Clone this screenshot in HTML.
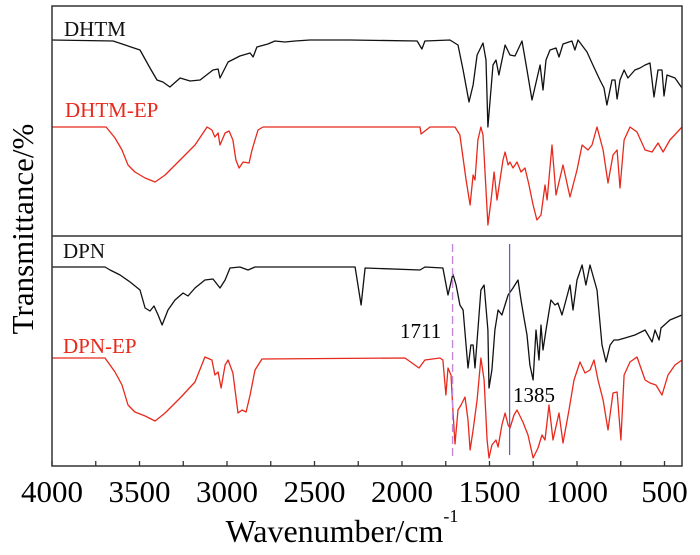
<!DOCTYPE html>
<html><head><meta charset="utf-8"><style>
html,body{margin:0;padding:0;background:#fff;}
svg{display:block;font-family:"Liberation Serif",serif;}
</style></head><body>
<svg id="chart" width="700" height="555" viewBox="0 0 700 555" xmlns="http://www.w3.org/2000/svg">
<rect width="700" height="555" fill="#fff"/>
<g id="plot"></g>
<text x="0" y="0" font-size="31" text-anchor="middle" transform="translate(33,229) rotate(-90)">Transmittance/%</text>
<text x="342" y="542" font-size="32" text-anchor="middle">Wavenumber/cm<tspan dy="-20" font-size="18">-1</tspan></text>
<text x="64" y="36" font-size="21" fill="#111">DHTM</text>
<text x="65" y="117" font-size="21" fill="#e8291c">DHTM-EP</text>
<text x="63" y="258" font-size="21" fill="#111">DPN</text>
<text x="63" y="353" font-size="21" fill="#e8291c">DPN-EP</text>
<text x="400" y="338" font-size="21">1711</text>
<text x="513" y="402" font-size="21">1385</text>
</svg>
<script>
const xTicks=[4000,3500,3000,2500,2000,1500,1000,500];
const minorTicks=[3750,3250,2750,2250,1750,1250,750];
const markers=[1711,1385];
const dhtm=[[4000,426],[3651,425],[3497,416],[3440,398],[3400,386],[3366,384],[3326,379],[3268,388],[3211,385],[3154,386],[3080,396],[3051,397],[3040,388],[2994,404],[2926,410],[2868,413],[2851,409],[2829,419],[2766,422],[2726,425],[2669,424],[2611,425],[2526,426],[2297,426],[1914,425],[1886,417],[1869,425],[1726,426],[1680,421],[1651,396],[1617,364],[1594,381],[1571,411],[1537,423],[1520,406],[1509,339],[1480,401],[1463,406],[1446,391],[1411,421],[1383,411],[1354,410],[1314,425],[1286,396],[1257,366],[1211,401],[1194,376],[1177,406],[1154,416],[1120,418],[1103,409],[1080,422],[1029,425],[1012,416],[994,426],[943,414],[909,401],[869,386],[846,378],[829,361],[800,386],[783,386],[771,367],[754,386],[731,396],[709,388],[669,396],[640,398],[611,401],[583,403],[560,369],[537,396],[514,396],[503,370],[486,391],[440,388],[400,378]];
const dhtmEp=[[4000,339],[3691,339],[3640,328],[3600,316],[3566,301],[3526,294],[3468,288],[3411,284],[3354,291],[3268,306],[3183,321],[3114,339],[3086,336],[3069,329],[3051,333],[3040,321],[3011,333],[2988,335],[2966,326],[2949,306],[2931,298],[2908,304],[2874,303],[2857,316],[2823,336],[2794,339],[2297,339],[1897,339],[1891,332],[1840,339],[1697,339],[1669,331],[1634,286],[1611,261],[1594,291],[1583,286],[1566,326],[1549,339],[1537,331],[1514,256],[1509,241],[1491,266],[1474,294],[1457,266],[1423,306],[1411,314],[1394,301],[1383,304],[1366,298],[1343,304],[1320,294],[1297,298],[1274,281],[1251,261],[1229,246],[1206,251],[1183,281],[1171,266],[1143,321],[1120,271],[1080,301],[1040,269],[1000,296],[971,321],[937,316],[914,321],[886,339],[851,316],[823,283],[794,311],[771,316],[754,278],[731,326],[697,339],[657,334],[611,316],[571,314],[537,323],[508,314],[469,326],[400,339]];
const dpn=[[4000,199],[3697,199],[3668,196],[3611,191],[3554,184],[3497,176],[3468,158],[3440,155],[3417,160],[3394,151],[3371,141],[3337,156],[3297,166],[3251,173],[3223,170],[3183,178],[3126,186],[3080,187],[3040,178],[3011,186],[2983,198],[2926,199],[2880,196],[2840,199],[2268,199],[2234,161],[2211,198],[1897,196],[1869,199],[1766,198],[1737,171],[1709,192],[1691,181],[1669,161],[1651,156],[1623,98],[1606,121],[1594,121],[1583,98],[1566,136],[1549,176],[1531,181],[1509,136],[1503,78],[1486,96],[1469,136],[1451,156],[1429,151],[1394,171],[1366,178],[1337,186],[1320,166],[1303,148],[1286,131],[1269,101],[1251,86],[1234,136],[1217,106],[1206,141],[1194,116],[1177,136],[1149,166],[1126,161],[1109,163],[1086,151],[1063,166],[1040,181],[1023,156],[1000,186],[971,201],[949,181],[926,201],[886,176],[857,121],[834,104],[811,121],[789,126],[766,126],[726,128],[669,131],[611,136],[571,124],[554,136],[531,126],[520,138],[469,146],[400,151]];
const dpnEp=[[4000,108],[3697,108],[3640,94],[3600,81],[3566,61],[3526,54],[3468,50],[3411,45],[3354,53],[3268,68],[3183,84],[3126,109],[3086,106],[3069,91],[3051,94],[3034,78],[3011,101],[2994,106],[2966,93],[2937,53],[2914,56],[2891,54],[2868,71],[2840,96],[2800,107],[1983,108],[1903,98],[1869,106],[1783,108],[1766,106],[1749,71],[1737,98],[1720,91],[1709,56],[1697,22],[1680,56],[1663,61],[1640,69],[1623,46],[1611,16],[1594,36],[1571,66],[1549,108],[1531,86],[1514,26],[1503,8],[1486,21],[1463,26],[1451,19],[1429,41],[1411,53],[1394,41],[1383,38],[1360,51],[1343,56],[1309,44],[1280,31],[1251,8],[1223,18],[1200,31],[1183,26],[1160,61],[1137,26],[1103,53],[1080,23],[1046,56],[1017,86],[983,104],[954,93],[926,96],[903,106],[880,86],[851,66],[823,36],[794,73],[771,74],[749,26],[731,91],[697,104],[657,109],[611,86],[583,83],[549,81],[514,71],[480,91],[440,101],[400,106]];

const X0=52,X1=682,W0=4000,W1=400,YB=466,YT=6,YD=236;
function xs(w){return X0+(W0-w)*(X1-X0)/(W0-W1);}
function ys(v){return YB-v;}
const NS="http://www.w3.org/2000/svg";
const g=document.getElementById('plot');
function mk(tag,attrs){const e=document.createElementNS(NS,tag);for(const k in attrs)e.setAttribute(k,attrs[k]);g.appendChild(e);return e;}

function series(data,color,name){
  const d=data.map((p,i)=>(i?'L':'M')+xs(p[0]).toFixed(1)+','+ys(p[1]).toFixed(1)).join('');
  const p=mk('path',{d:d,fill:'none',stroke:color,'stroke-width':1.3,'stroke-linejoin':'round'});
  
  
}
series(dhtm,'#111','series-dhtm');
series(dhtmEp,'#e8291c','series-dhtm-ep');
series(dpn,'#111','series-dpn');
series(dpnEp,'#e8291c','series-dpn-ep');

const m1=mk('line',{x1:xs(markers[0]),x2:xs(markers[0]),y1:244,y2:456,stroke:'#c08ad8','stroke-width':1.4,'stroke-dasharray':'8,4'});


const m2=mk('line',{x1:xs(markers[1]),x2:xs(markers[1]),y1:244,y2:455,stroke:'#5a5fb0','stroke-width':1.2});



const fr=mk('rect',{x:X0,y:YT,width:X1-X0,height:YB-YT,fill:'none',stroke:'#333','stroke-width':1.5});


const dv=mk('line',{x1:X0,x2:X1,y1:YD,y2:YD,stroke:'#333','stroke-width':1.5});



xTicks.concat(minorTicks).forEach(w=>{
  const t=mk('line',{x1:xs(w),x2:xs(w),y1:YB,y2:YB-5,stroke:'#333','stroke-width':1.3});
  
  
});
xTicks.forEach(w=>{
  const t=mk('text',{x:xs(w),y:502,'font-size':31,'text-anchor':'middle'});
  t.textContent=w;
  
  
});
</script>
</body></html>
